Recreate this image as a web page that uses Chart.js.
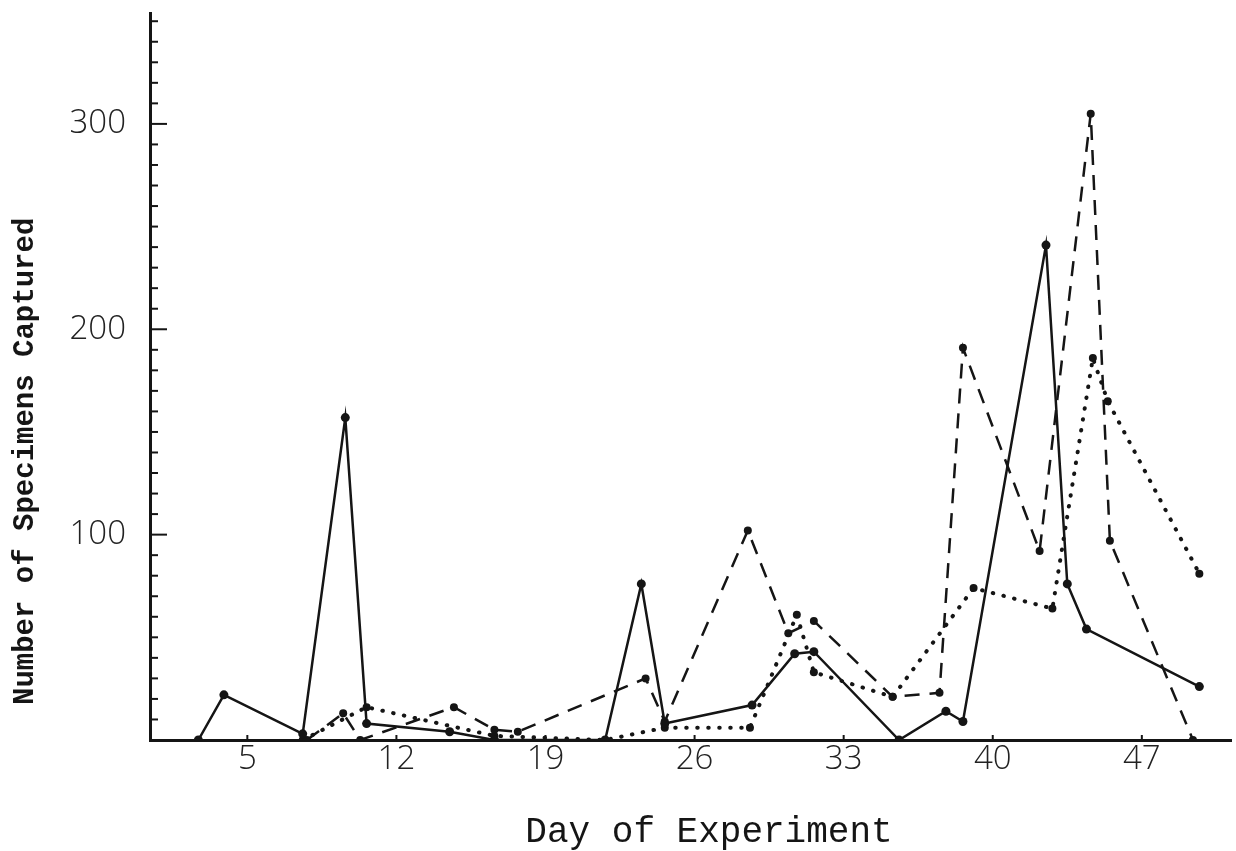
<!DOCTYPE html>
<html>
<head>
<meta charset="utf-8">
<title>Number of Specimens Captured</title>
<script src="https://cdn.jsdelivr.net/npm/chart.js@4.4.1/dist/chart.umd.min.js"></script>
<style>
  html, body { margin: 0; padding: 0; background: #fff; }
  #wrap { width: 1236px; height: 851px; }
</style>
</head>
<body>
<div id="wrap"><canvas id="grafico"></canvas></div>
<script>
// valores (dia, numero capturado)
const solidDays    = [2.7, 3.9, 7.6, 9.6, 10.6, 14.5, 16.6, 21.8, 23.5, 24.6, 28.7, 30.7, 31.6, 35.6, 37.8, 38.6, 42.5, 43.5, 44.4, 49.7];
const solidCounts  = [0, 22, 3, 157, 8, 4, 0, 0, 76, 8, 17, 42, 43, 0, 14, 9, 241, 76, 54, 26];

const dashedDays   = [7.8, 9.5, 10.3, 14.7, 16.6, 17.7, 23.7, 24.6, 28.5, 30.4, 31.6, 35.3, 37.5, 38.6, 42.2, 44.6, 45.5, 49.4];
const dashedCounts = [0, 13, 0, 16, 5, 4, 30, 9, 102, 52, 58, 21, 23, 191, 92, 305, 97, 0];

const dottedDays   = [7.6, 10.6, 16.6, 21.8, 24.6, 28.6, 30.8, 31.6, 35.3, 39.1, 42.8, 44.7, 45.4, 49.7];
const dottedCounts = [0, 16, 2, 0, 6, 6, 61, 33, 21, 74, 64, 186, 165, 81];

const xTicks = [5, 12, 19, 26, 33, 40, 47];
const yTicks = [100, 200, 300];

const xTitle = "Day of Experiment";
const yTitle = "Number of Specimens Captured";

const tinta = "#151515";
const fonteNum = "'Open Sans', 'DejaVu Sans', sans-serif";
const fonteMaq = "'Liberation Mono', 'DejaVu Sans Mono', monospace";

function pontos(days, counts) {
  return days.map((d, i) => ({ x: d, y: counts[i] }));
}

// pequenos tracos do eixo y (de 10 em 10), marcas do eixo x e titulos dos eixos
const marcasEixo = {
  id: "marcasEixo",
  afterDraw(chart) {
    const ctx = chart.ctx;
    const sy = chart.scales.y;
    const sx = chart.scales.x;
    const area = chart.chartArea;
    ctx.save();
    ctx.strokeStyle = tinta;
    ctx.lineWidth = 2;
    for (let v = 10; v <= sy.max; v += 10) {
      const py = sy.getPixelForValue(v);
      const len = v % 100 === 0 ? 17 : 8;
      ctx.beginPath();
      ctx.moveTo(area.left, py);
      ctx.lineTo(area.left + len, py);
      ctx.stroke();
    }
    xTicks.forEach(t => {
      const px = sx.getPixelForValue(t);
      ctx.beginPath();
      ctx.moveTo(px, area.bottom);
      ctx.lineTo(px, area.bottom - 5);
      ctx.stroke();
    });

    ctx.fillStyle = tinta;
    ctx.textBaseline = "middle";
    ctx.font = "36px " + fonteMaq;
    ctx.textAlign = "center";
    ctx.fillText(xTitle, 709, 832);

    ctx.translate(26, 705);
    ctx.rotate(-Math.PI / 2);
    ctx.font = "bold 29px " + fonteMaq;
    ctx.textAlign = "left";
    ctx.fillText(yTitle, 0, 0);
    ctx.restore();
  }
};

new Chart(document.getElementById("grafico"), {
  type: "line",
  data: {
    datasets: [
      {
        data: pontos(solidDays, solidCounts),
        borderColor: tinta,
        borderWidth: 2.5,
        pointRadius: 4.5,
        pointBackgroundColor: tinta,
        pointBorderWidth: 0,
        tension: 0
      },
      {
        data: pontos(dashedDays, dashedCounts),
        borderColor: tinta,
        borderWidth: 2.5,
        borderDash: [15, 10],
        pointRadius: 4,
        pointBackgroundColor: tinta,
        pointBorderWidth: 0,
        tension: 0
      },
      {
        data: pontos(dottedDays, dottedCounts),
        borderColor: tinta,
        borderWidth: 4,
        borderDash: [0.5, 10.5],
        borderCapStyle: "round",
        pointRadius: 4,
        pointBackgroundColor: tinta,
        pointBorderWidth: 0,
        tension: 0
      }
    ]
  },
  options: {
    responsive: true,
    maintainAspectRatio: false,
    animation: false,
    layout: { padding: { top: 13, right: 0, bottom: 0, left: 0 } },
    plugins: {
      legend: { display: false },
      tooltip: { enabled: false }
    },
    scales: {
      x: {
        type: "linear",
        min: 0.43,
        max: 51.21,
        afterBuildTicks: s => { s.ticks = xTicks.map(v => ({ value: v })); },
        afterFit: s => { s.height = 111; s.paddingLeft = 0; s.paddingRight = 0; },
        grid: { display: false, drawTicks: false },
        border: { color: tinta, width: 3 },
        ticks: {
          autoSkip: false,
          maxRotation: 0,
          padding: 0,
          color: "#222",
          font: { family: fonteNum, size: 33, weight: 300 }
        }
      },
      y: {
        type: "linear",
        min: 0,
        max: 354,
        afterBuildTicks: s => { s.ticks = yTicks.map(v => ({ value: v })); },
        afterFit: s => { s.width = 150; s.paddingTop = 0; s.paddingBottom = 0; },
        grid: { display: false, drawTicks: false },
        border: { color: tinta, width: 3 },
        ticks: {
          padding: 24,
          color: "#222",
          font: { family: fonteNum, size: 33, weight: 300 }
        }
      }
    }
  },
  plugins: [marcasEixo]
});
</script>
</body>
</html>
